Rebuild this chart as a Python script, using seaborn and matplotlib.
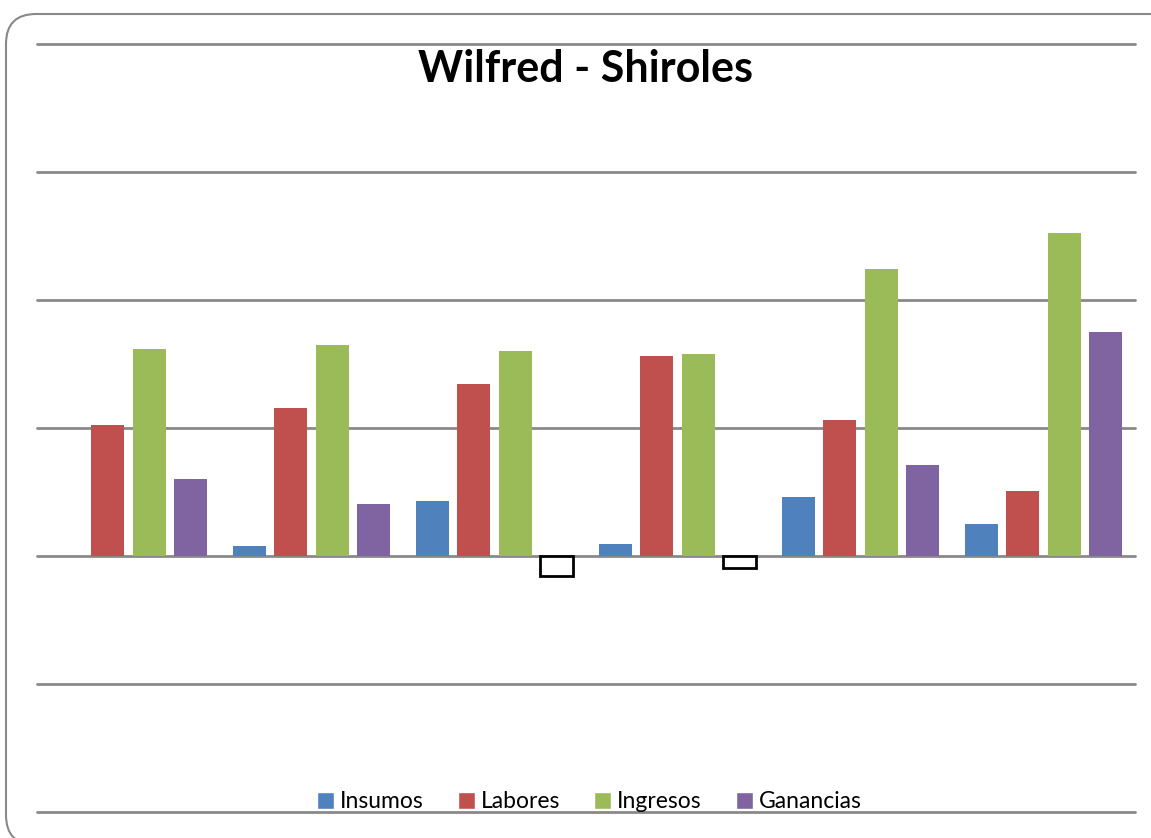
import pandas as pd
import matplotlib.pyplot as plt
import seaborn as sns
from matplotlib.patches import FancyBboxPatch, Patch
from matplotlib.transforms import IdentityTransform

# datos (sin etiquetas de eje, unidad = una linea de cuadricula)
grupos = ["1", "2", "3", "4", "5", "6"]
insumos = [0.0, 0.08, 0.43, 0.09, 0.46, 0.25]
labores = [1.02, 1.16, 1.34, 1.56, 1.06, 0.51]
ingresos = [1.62, 1.65, 1.60, 1.58, 2.24, 2.52]
ganancias = [0.60, 0.41, -0.16, -0.09, 0.71, 1.75]

series = ["Insumos", "Labores", "Ingresos", "Ganancias"]
colores = ["#4F81BD", "#C0504D", "#9BBB59", "#8064A2"]

df = pd.DataFrame({"grupo": grupos, "Insumos": insumos, "Labores": labores,
                   "Ingresos": ingresos, "Ganancias": ganancias})
df = df.melt(id_vars="grupo", var_name="serie", value_name="valor")

sns.set_style("white")
plt.rcParams["font.family"] = ["Lato", "DejaVu Sans"]
plt.rcParams["text.color"] = "black"

fig = plt.figure(figsize=(11.51, 8.38), dpi=100)
ax = fig.add_axes([37 / 1151, 26 / 838, 1098 / 1151, 768 / 838])

sns.barplot(data=df, x="grupo", y="valor", hue="serie", hue_order=series,
            palette=colores, width=0.905, gap=0.2, ax=ax, legend=False,
            saturation=1, linewidth=0)

# barras negativas: blancas con borde negro (como en Excel)
for p in ax.patches:
    if p.get_height() < 0:
        p.set_facecolor("white")
        p.set_edgecolor("black")
        p.set_linewidth(2)

ax.set_xlim(-0.5, 5.5)
ax.set_ylim(-2, 4)
ax.set_yticks(range(-2, 5))
ax.yaxis.grid(True, color="#898989", linewidth=2)
for gl in ax.get_ygridlines():
    gl.set_clip_on(False)
ax.set_axisbelow(True)
ax.set_xticks([])
ax.set_yticklabels([])
ax.tick_params(left=False)
ax.set_xlabel("")
ax.set_ylabel("")
for s in ax.spines.values():
    s.set_visible(False)

fig.text(0.509, 0.918, "Wilfred - Shiroles", ha="center", va="center",
         fontsize=31, fontweight="bold", color="black")

handles = [Patch(facecolor=c, label=s) for s, c in zip(series, colores)]
fig.legend(handles=handles, loc="center", bbox_to_anchor=(0.512, 0.043), ncol=4,
           frameon=False, fontsize=16.5, handlelength=0.75, handleheight=0.75,
           handletextpad=0.25, columnspacing=1.5, labelcolor="black")

# marco redondeado del area del grafico
marco = FancyBboxPatch((6, -7), 1178, 831, boxstyle="round,pad=0,rounding_size=30",
                       transform=IdentityTransform(), facecolor="none",
                       edgecolor="#898989", linewidth=1.5, zorder=10)
fig.patches.append(marco)

fig.savefig("out.png", dpi=100)
